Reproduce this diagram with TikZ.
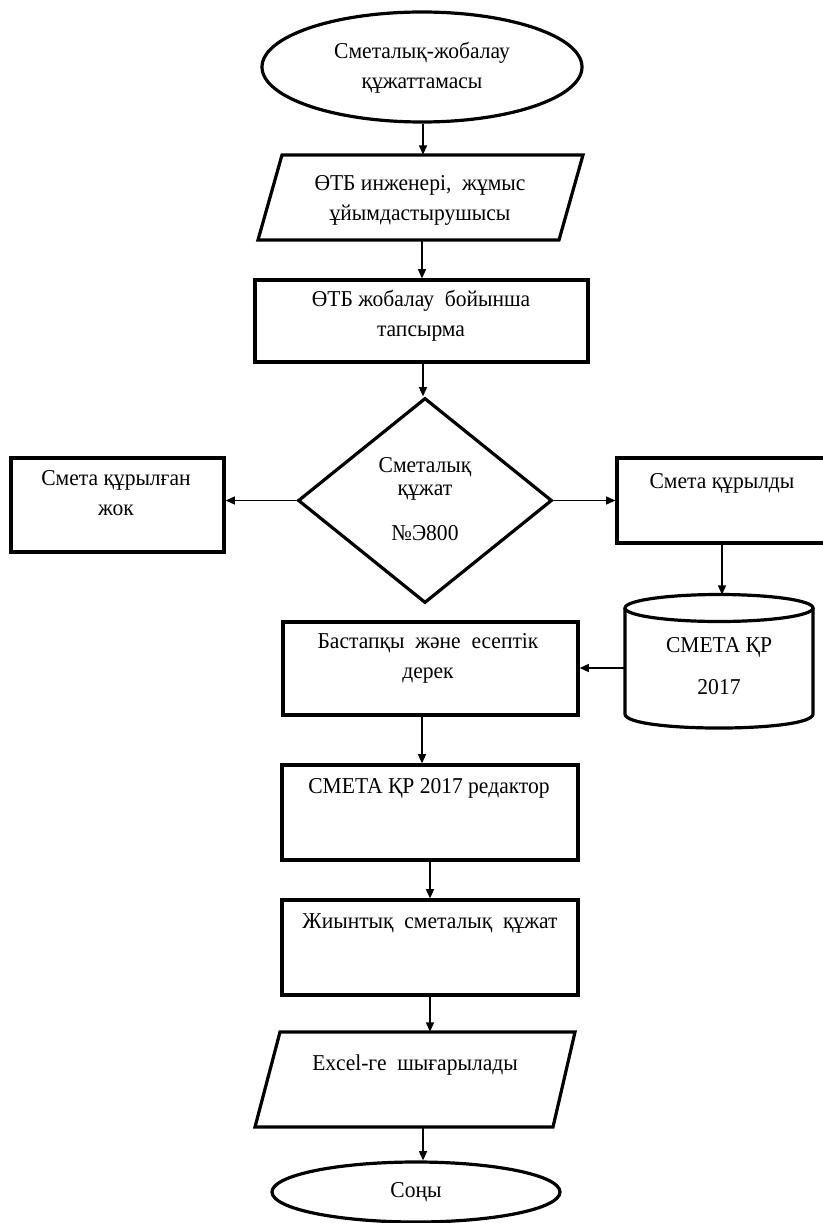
\documentclass[tikz,border=0pt]{standalone}
\usepackage{fontspec}
\setmainfont[FakeStretch=0.95]{Liberation Serif}
\usetikzlibrary{shapes.geometric,arrows.meta}
\tikzset{
  shp/.style={draw=black, line width=2.4pt, inner sep=0pt, fill=white},
  boxshape/.style={shp, rectangle},
  ovalshape/.style={shp, ellipse},
  decision/.style={shp, diamond},
  anchorbox/.style={inner sep=0pt, rectangle},
  txt/.style={align=center, inner sep=0pt, font=\fontsize{17}{22.5}\selectfont},
  conn/.style={line width=1.2pt, -{Triangle[length=7pt,width=6pt]}}
}
\begin{document}
\begin{tikzpicture}[x=0.75pt,y=-0.75pt]
\fill[white] (0,0) rectangle (822,1223);
\useasboundingbox (0,0) rectangle (822,1223);

% shapes
\node[ovalshape, minimum width=240pt, minimum height=82.5pt] (start) at (422,67) {};
\draw[line width=2.4pt, line join=miter] (282,155) -- (583,155) -- (559,240) -- (258,240) -- cycle;
\node[anchorbox, minimum width=180pt, minimum height=63.75pt] (p1) at (420.5,197.5) {};
\node[boxshape, minimum width=249.75pt, minimum height=61.5pt] (task) at (421.5,321) {};
\node[decision, minimum width=190.5pt, minimum height=153.75pt] (dec) at (425,500.5) {};
\node[boxshape, minimum width=159.75pt, minimum height=70.5pt] (no) at (117.5,505) {};
\node[boxshape, minimum width=156.75pt, minimum height=63.75pt] (yes) at (721.5,500.5) {};
\node[boxshape, minimum width=221.25pt, minimum height=69.75pt] (data) at (430.5,668.5) {};
\node[boxshape, minimum width=222pt, minimum height=71.25pt] (edit) at (430,812.5) {};
\node[boxshape, minimum width=222pt, minimum height=71.25pt] (sum) at (430,947.5) {};
\draw[line width=2.4pt, line join=miter] (280,1032) -- (575,1032) -- (553,1127) -- (255,1127) -- cycle;
\node[anchorbox, minimum width=180pt, minimum height=71.25pt] (p2) at (415,1079.5) {};
\node[ovalshape, minimum width=216pt, minimum height=45pt] (fin) at (416,1192) {};

% cylinder
\draw[line width=2.4pt, fill=white] (625,608) -- (625,714) .. controls (625,732.7) and (813,732.7) .. (813,714) -- (813,608);
\draw[line width=2.4pt] (719,608) ellipse [x radius=94, y radius=13.5];
\node[anchorbox, minimum width=141pt, minimum height=99.75pt] (db) at (719,661.5) {};

% texts
\node[txt] (t1) at (422,68) {Сметалық-жобалау\\құжаттамасы};
\node[txt] (t2) at (420,200) {ӨТБ инженері,\ \ жұмыс\\ұйымдастырушысы};
\node[txt] (t3) at (421,316) {ӨТБ жобалау\ \ бойынша\\тапсырма};
\node[txt] (t4a) at (425,467) {Сметалық};
\node[txt] (t4b) at (425,493) {құжат};
\node[txt] (t4c) at (425,533) {№Э800};
\node[txt] (t5) at (116,493) {Смета құрылған\\жок};
\node[txt] (t6) at (722,483) {Смета құрылды};
\node[txt] (t7a) at (719,647) {СМЕТА ҚР};
\node[txt] (t7b) at (719,687) {2017};
\node[txt] (t8) at (428,658) {Бастапқы\ \ және\ \ есептік\\дерек};
\node[txt] (t9) at (429,788) {СМЕТА ҚР 2017 редактор};
\node[txt] (t10) at (430,923) {Жиынтық\ \ сметалық\ \ құжат};
\node[txt] (t11) at (415,1065) {Excel-ге\ \ шығарылады};
\node[txt] (t12) at (416,1192) {Соңы};

% connectors
\draw[conn] (start.south -| 423,0) -- (p1.north -| 423,0);
\draw[conn] (p1.south -| 422,0) -- (task.north -| 422,0);
\draw[conn] (task.south -| 423,0) -- (dec.north -| 423,0);
\draw[conn] (dec.west) -- (no.east |- dec.west);
\draw[conn] (dec.east) -- (yes.west |- dec.east);
\draw[conn] (yes.south -| 722,0) -- (db.north -| 722,0);
\draw[conn] (db.west |- 0,668) -- (data.east |- 0,668);
\draw[conn] (data.south -| 422,0) -- (edit.north -| 422,0);
\draw[conn] (edit.south -| 430,0) -- (sum.north -| 430,0);
\draw[conn] (sum.south -| 430,0) -- (p2.north -| 430,0);
\draw[conn] (p2.south -| 423,0) -- (fin.north -| 423,0);
\end{tikzpicture}
\end{document}
